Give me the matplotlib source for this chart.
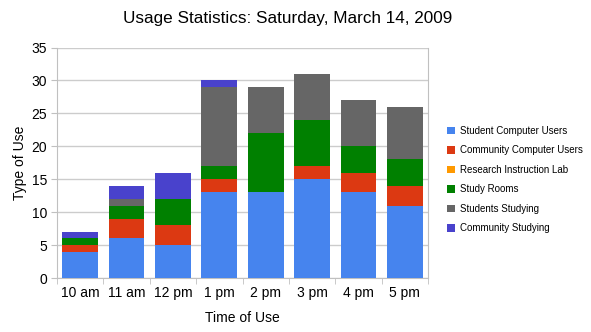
import numpy as np
import matplotlib
matplotlib.use("Agg")
import matplotlib.pyplot as plt

# data
times = ["10 am", "11 am", "12 pm", "1 pm", "2 pm", "3 pm", "4 pm", "5 pm"]
student_computer = [4, 6, 5, 13, 13, 15, 13, 11]
community_computer = [1, 3, 3, 2, 0, 2, 3, 3]
research_lab = [0, 0, 0, 0, 0, 0, 0, 0]
study_rooms = [1, 2, 4, 2, 9, 7, 4, 4]
students_studying = [0, 1, 0, 12, 7, 7, 7, 8]
community_studying = [1, 2, 4, 1, 0, 0, 0, 0]

series_names = ["Student Computer Users", "Community Computer Users",
                "Research Instruction Lab", "Study Rooms",
                "Students Studying", "Community Studying"]
colors = ["#4684EE", "#DC3912", "#FF9900", "#008000", "#666666", "#4942CC"]

plt.rcParams["font.family"] = ["Liberation Sans", "DejaVu Sans"]

fig = plt.figure(figsize=(5.91, 3.32), dpi=100)
W, H = 591, 332
ax = fig.add_axes([57 / W, (H - 278) / H, (428 - 57) / W, (278 - 47.5) / H])

x = np.arange(len(times))
series = [student_computer, community_computer, research_lab,
          study_rooms, students_studying, community_studying]
bottom = np.zeros(len(times))
handles = []
for vals, name, col in zip(series, series_names, colors):
    vals = np.array(vals, dtype=float)
    b = ax.bar(x, vals, width=0.77, bottom=bottom, color=col, label=name,
               linewidth=0, zorder=3)
    handles.append(b)
    bottom += vals

ax.set_xlim(-0.5, len(times) - 0.5)
ax.set_ylim(0, 35)
ax.set_yticks(np.arange(0, 36, 5))
ax.set_xticks(x)
ax.set_xticklabels(times, fontsize=10)
ax.tick_params(axis="y", labelsize=10, length=4, color="#c0c0c0", pad=3)
ax.tick_params(axis="x", length=0, pad=6)
# tick marks between categories
ax.set_xticks(np.arange(-0.5, len(times), 1), minor=True)
ax.tick_params(axis="x", which="minor", length=4, color="#c0c0c0")
ax.grid(axis="y", color="#cccccc", linewidth=1, zorder=0)
for side in ["left", "bottom", "right"]:
    ax.spines[side].set_color("#c0c0c0")
ax.spines["top"].set_visible(False)

ax.set_xlabel("Time of Use", fontsize=10, labelpad=8)
ax.set_ylabel("Type of Use", fontsize=10, labelpad=3)

fig.text(288 / W, 1 - 19 / H, "Usage Statistics: Saturday, March 14, 2009",
         ha="center", va="center", fontsize=12.3)

fig.legend(handles=handles, labels=series_names, loc="center left",
           bbox_to_anchor=(443 / W, 1 - 179.5 / H), frameon=False,
           fontsize=7, handlelength=0.8, handleheight=0.8, handletextpad=0.6,
           labelspacing=0.98, borderaxespad=0)

fig.savefig("out.png", dpi=100)
